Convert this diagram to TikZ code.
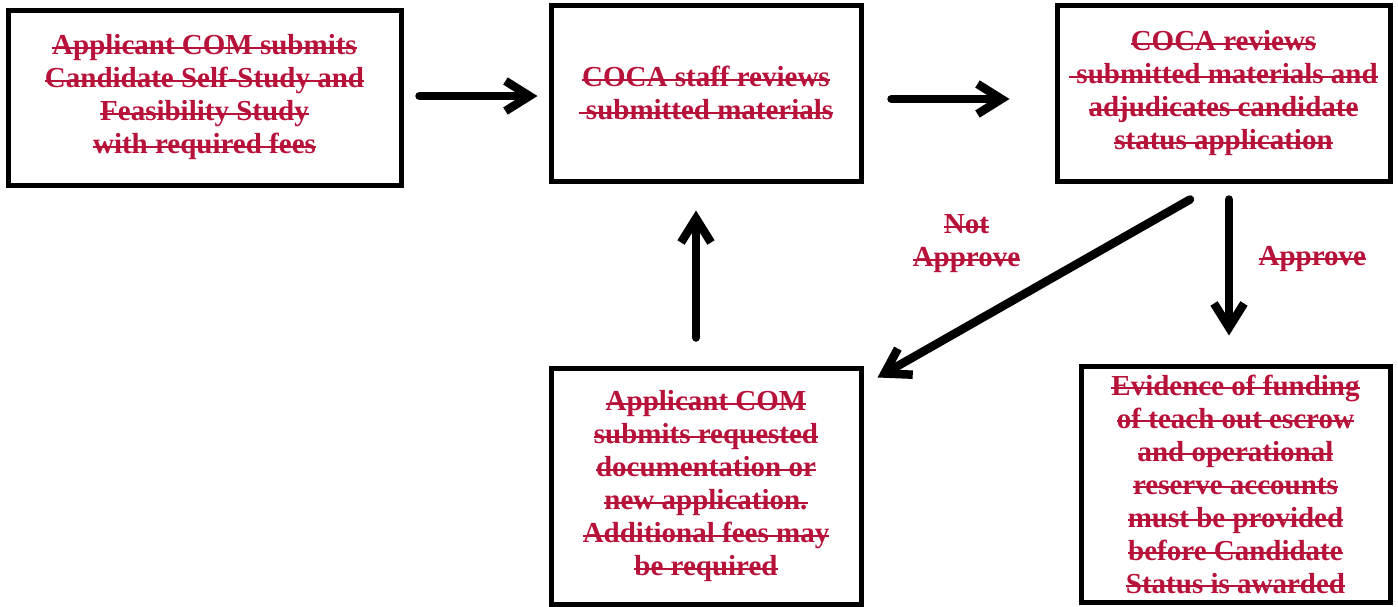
\documentclass[tikz,border=0pt]{standalone}
\usepackage{fontspec}
\setmainfont{Liberation Serif}
\usetikzlibrary{arrows.meta, positioning}
\definecolor{crimson}{RGB}{183,18,58}
\newsavebox{\xlinebox}
\newcommand{\xline}[1]{\sbox{\xlinebox}{#1}\rlap{\rule[0.2em]{\wd\xlinebox}{1.8pt}}\usebox{\xlinebox}}

\begin{document}
\begin{tikzpicture}[x=1pt, y=-1pt]
            \tikzset{
                stage/.style={draw, line width=5pt, align=center, inner sep=0pt, text=crimson,
                    font=\fontsize{29pt}{33pt}\selectfont\bfseries},
                flow/.style={line width=8.5pt, line cap=round, line join=round,
                    -{Straight Barb[length=24pt, width=30pt]}},
                lbl/.style={text=crimson, align=center, font=\fontsize{29pt}{33pt}\selectfont\bfseries}
            };
            \useasboundingbox (0, 0) rectangle (1398, 606);
            \node[stage, minimum width=393pt, minimum height=175pt] (apply) at (204.5, 97.5)
                {\xline{Applicant COM submits}\\ \xline{Candidate Self-Study and}\\ \xline{Feasibility Study}\\ \xline{with required fees}};
            \node[stage, minimum width=310pt, minimum height=176pt] (staff) at (706, 93)
                {\xline{COCA staff reviews}\\ \xline{~submitted materials}};
            \node[stage, minimum width=333pt, minimum height=176pt] (coca) at (1223.5, 93)
                {\xline{COCA reviews}\\ \xline{~submitted materials and}\\ \xline{adjudicates candidate}\\ \xline{status application}};
            \node[stage, minimum width=310pt, minimum height=236pt] (resubmit) at (706, 486)
                {\xline{Applicant COM}\\ \xline{submits requested}\\ \xline{documentation or}\\ \xline{new application.}\\ \xline{Additional fees may}\\ \xline{be required}};
            \node[stage, minimum width=309pt, minimum height=236pt] (funding) at (1235.5, 484)
                {\xline{Evidence of funding}\\ \xline{of teach out escrow}\\ \xline{and operational}\\ \xline{reserve accounts}\\ \xline{must be provided}\\ \xline{before Candidate}\\ \xline{Status is awarded}};
            \draw[flow] ([xshift=16pt, yshift=1.5pt]apply.east) -- ([xshift=-11pt, yshift=-3pt]staff.west);
            \draw[flow] ([xshift=28pt, yshift=-6pt]staff.east) -- ([xshift=-45pt, yshift=-6pt]coca.west);
            \draw[flow] ([xshift=-33.5pt, yshift=-16pt]coca.south) -- ([xshift=14pt, yshift=-12pt]resubmit.north east)
                node[lbl, pos=0.5, above left=8pt and 6pt] {\xline{Not}\\ \xline{Approve}};
            \draw[flow] ([xshift=5.5pt, yshift=-16pt]coca.south) -- ([xshift=-6.5pt, yshift=28pt]funding.north)
                node[lbl, pos=0.44, right=22pt] {\xline{Approve}};
            \draw[flow] ([xshift=-10pt, yshift=28pt]resubmit.north) -- ([xshift=-10pt, yshift=-27pt]staff.south);
        \end{tikzpicture}
\end{document}
